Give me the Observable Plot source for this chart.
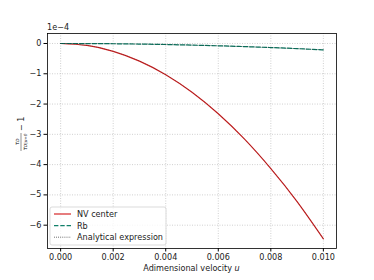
<!DOCTYPE html>
<html>
<head>
<meta charset="utf-8">
<script src="https://cdn.jsdelivr.net/npm/d3@7"></script>
<script src="https://cdn.jsdelivr.net/npm/@observablehq/plot@0.6"></script>
<style>
  html, body { margin: 0; padding: 0; background: #fff; }
  svg { font-family: "DejaVu Sans", sans-serif; }
</style>
</head>
<body>
<div id="chart"></div>
<script>
// Data
const u = [0, 0.001, 0.002, 0.003, 0.004, 0.005, 0.006, 0.007, 0.008, 0.009, 0.010];
const nvCenter = [0, -0.0645e-4, -0.258e-4, -0.581e-4, -1.03e-4, -1.61e-4, -2.32e-4, -3.16e-4, -4.13e-4, -5.22e-4, -6.45e-4];
const rb = [0, -0.002e-4, -0.008e-4, -0.019e-4, -0.034e-4, -0.053e-4, -0.076e-4, -0.103e-4, -0.134e-4, -0.170e-4, -0.21e-4];
const analyticalNV = [0, -0.0645e-4, -0.258e-4, -0.581e-4, -1.03e-4, -1.61e-4, -2.32e-4, -3.16e-4, -4.13e-4, -5.22e-4, -6.45e-4];
const analyticalRb = [0, -0.002e-4, -0.008e-4, -0.019e-4, -0.034e-4, -0.053e-4, -0.076e-4, -0.103e-4, -0.134e-4, -0.170e-4, -0.21e-4];
const xTicks = [0, 0.002, 0.004, 0.006, 0.008, 0.010];
const yTicks = [-6e-4, -5e-4, -4e-4, -3e-4, -2e-4, -1e-4, 0];
const seriesNames = ["NV center", "Rb", "Analytical expression"];

const red = "#d62728";
const teal = "#11806a";

const mk = (ys) => u.map((x, i) => ({x, y: ys[i]}));

const chart = Plot.plot({
  width: 374,
  height: 280,
  marginLeft: 47,
  marginRight: 38,
  marginTop: 33,
  marginBottom: 32,
  style: {fontFamily: "DejaVu Sans, sans-serif", fontSize: "8.1px", background: "#fff"},
  x: {domain: [-0.0005, 0.0105]},
  y: {domain: [-6.77e-4, 0.33e-4]},
  marks: [
    Plot.gridX(xTicks, {stroke: "#b0b0b0", strokeOpacity: 1, strokeWidth: 0.6, strokeDasharray: "1,1.5"}),
    Plot.gridY(yTicks, {stroke: "#b0b0b0", strokeOpacity: 1, strokeWidth: 0.6, strokeDasharray: "1,1.5"}),
    Plot.line(mk(nvCenter), {x: "x", y: "y", stroke: red, strokeWidth: 1.2, curve: "natural"}),
    Plot.line(mk(rb), {x: "x", y: "y", stroke: teal, strokeWidth: 1.2, strokeDasharray: "4.4,1.9", curve: "natural"}),
    Plot.line(mk(analyticalNV), {x: "x", y: "y", stroke: "#000", strokeWidth: 0.45, strokeOpacity: 0.6, strokeDasharray: "0.6,1.4", curve: "natural"}),
    Plot.line(mk(analyticalRb), {x: "x", y: "y", stroke: "#000", strokeWidth: 0.45, strokeOpacity: 0.6, strokeDasharray: "0.6,1.4", curve: "natural"}),
    Plot.axisX(xTicks, {tickSize: 3.5, tickPadding: 2.5, tickFormat: d3.format(".3f"), label: null, fontSize: 8.1, stroke: "#000", fill: "#222"}),
    Plot.axisY(yTicks, {tickSize: 3.5, tickPadding: 2.5, tickFormat: d => d3.format("d")(Math.round(d * 1e4)), label: null, fontSize: 8.1, stroke: "#000", fill: "#222"}),
    Plot.frame({stroke: "#000", strokeWidth: 0.8})
  ]
});

const svg = d3.select(chart);

// offset text
svg.append("text").attr("x", 47).attr("y", 30).attr("text-anchor", "start").attr("font-size", 8.1).attr("fill", "#222").text("1e\u22124");

// x label
const xl = svg.append("text").attr("x", 191.5).attr("y", 271).attr("text-anchor", "middle").attr("font-size", 8.1).attr("fill", "#222");
xl.append("tspan").text("Adimensional velocity ");
xl.append("tspan").attr("font-style", "italic").text("u");

// y label (rotated fraction)
const yg = svg.append("g").attr("transform", "translate(21,138) rotate(-90)");
yg.append("text").attr("x", 7).attr("y", 3).attr("text-anchor", "start").attr("font-size", 8.1).attr("fill", "#222").text("\u2212 1");
yg.append("line").attr("x1", -13).attr("x2", 5).attr("y1", 0).attr("y2", 0).attr("stroke", "#222").attr("stroke-width", 0.5);
const num = yg.append("text").attr("x", -4).attr("y", -2).attr("text-anchor", "middle").attr("font-size", 5.8).attr("fill", "#222");
num.append("tspan").attr("font-style", "italic").text("\u03c4");
num.append("tspan").attr("font-size", 4.2).attr("font-style", "italic").text("D");
const den = yg.append("text").attr("x", -4).attr("y", 5.8).attr("text-anchor", "middle").attr("font-size", 5.8).attr("fill", "#222");
den.append("tspan").attr("font-style", "italic").text("\u03c4");
den.append("tspan").attr("font-size", 4.2).attr("font-style", "italic").text("D|u=0");

// legend
const lg = svg.append("g");
lg.append("rect").attr("x", 50).attr("y", 207).attr("width", 116).attr("height", 38).attr("rx", 2)
  .attr("fill", "#fff").attr("fill-opacity", 0.8).attr("stroke", "#cccccc").attr("stroke-width", 0.7);
const styles = [
  {stroke: red, dash: null, w: 1.2},
  {stroke: teal, dash: "4.4,1.9", w: 1.2},
  {stroke: "#000", dash: "0.8,1.3", w: 0.7}
];
seriesNames.forEach((name, i) => {
  const yy = 214 + i * 11.6;
  const l = lg.append("line").attr("x1", 54).attr("x2", 71).attr("y1", yy).attr("y2", yy)
    .attr("stroke", styles[i].stroke).attr("stroke-width", styles[i].w);
  if (styles[i].dash) l.attr("stroke-dasharray", styles[i].dash);
  lg.append("text").attr("x", 77).attr("y", yy + 3).attr("text-anchor", "start").attr("font-size", 8.1).attr("fill", "#222").text(name);
});

document.getElementById("chart").appendChild(chart);
</script>
</body>
</html>
